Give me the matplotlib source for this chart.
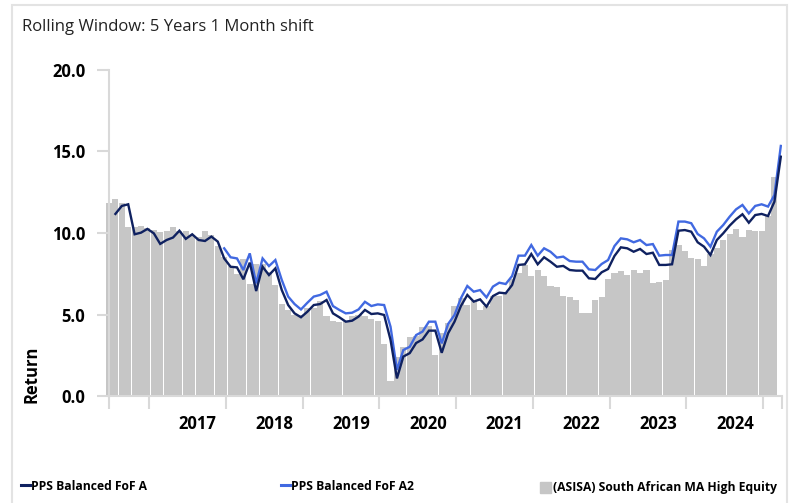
import matplotlib
matplotlib.use("Agg")
import matplotlib.pyplot as plt
from matplotlib.patches import Rectangle
from matplotlib.lines import Line2D
from matplotlib import font_manager
import numpy as np
import pandas as pd

# Monthly rolling 5-year returns (%), July 2016 onwards
months = pd.date_range("2016-07-01", periods=106, freq="MS")

sector_returns = [
    11.85, 12.1, 11.85, 10.35, 10.35, 10.4, 10.3, 10.2, 10.05, 10.15,
    10.35, 10.15, 10.15, 9.9, 9.75, 10.15, 9.9, 9.2, 8.5, 8.0,
    7.5, 8.4, 6.9, 8.1, 8.1, 7.6, 6.8, 5.65, 5.3, 4.95,
    5.0, 5.4, 5.4, 5.85, 4.9, 4.6, 4.55, 4.6, 4.9, 5.0,
    4.9, 4.7, 4.6, 3.2, 0.95, 2.4, 3.0, 3.65, 3.7, 4.25,
    4.3, 2.5, 3.85, 4.5, 5.5, 6.0, 5.6, 5.8, 5.3, 5.5,
    6.15, 6.15, 6.4, 7.2, 7.55, 8.05, 7.35, 7.7, 7.35, 6.75,
    6.7, 6.15, 6.05, 5.9, 5.1, 5.1, 5.9, 6.05, 7.2, 7.55,
    7.65, 7.4, 7.7, 7.55, 7.7, 6.95, 7.0, 7.1, 8.95, 9.25,
    8.9, 8.45, 8.4, 8.0, 8.7, 9.05, 9.6, 9.95, 10.25, 9.75,
    10.2, 10.1, 10.15, 11.05, 13.45,
]

fund_a = [
    None, 11.17, 11.66, 11.76, 9.92, 10.02, 10.25, 9.98, 9.33, 9.57,
    9.72, 10.14, 9.64, 9.92, 9.57, 9.51, 9.78, 9.47, 8.44, 7.93,
    7.89, 7.16, 8.18, 6.44, 7.93, 7.42, 7.83, 6.5, 5.58, 5.07,
    4.83, 5.17, 5.58, 5.64, 5.89, 5.07, 4.83, 4.56, 4.62, 4.87,
    5.28, 5.03, 5.07, 4.97, 3.44, 1.08, 2.42, 2.63, 3.25, 3.47,
    4.01, 4.01, 2.65, 3.85, 4.56, 5.52, 6.2, 5.79, 5.93, 5.48,
    6.13, 6.34, 6.3, 6.81, 8.04, 8.08, 8.71, 8.08, 8.51, 8.24,
    7.93, 7.98, 7.73, 7.69, 7.69, 7.22, 7.18, 7.59, 7.79, 8.59,
    9.12, 9.06, 8.85, 9.02, 8.71, 8.79, 8.04, 8.04, 8.08, 10.14,
    10.18, 10.08, 9.43, 9.16, 8.65, 9.57, 9.98, 10.45, 10.84, 11.15,
    10.63, 11.1, 11.17, 11.04, 11.92, 14.68,
]

fund_a2 = [None] * 18 + [
    9.06, 8.51, 8.44, 7.73, 8.75, 6.91, 8.44, 7.97, 8.34, 7.12,
    6.1, 5.64, 5.31, 5.72, 6.1, 6.2, 6.4, 5.52, 5.28, 5.07,
    5.11, 5.31, 5.78, 5.52, 5.62, 5.58, 4.25, 1.6, 2.82, 3.02,
    3.74, 3.95, 4.56, 4.56, 3.23, 4.42, 4.97, 6.0, 6.75, 6.4,
    6.5, 6.05, 6.71, 6.95, 6.87, 7.36, 8.61, 8.61, 9.26, 8.61,
    9.06, 8.85, 8.49, 8.55, 8.28, 8.24, 8.24, 7.77, 7.73, 8.1,
    8.34, 9.2, 9.67, 9.61, 9.43, 9.57, 9.26, 9.32, 8.61, 8.65,
    8.65, 10.7, 10.7, 10.6, 9.94, 9.67, 9.16, 10.08, 10.49, 11.0,
    11.45, 11.72, 11.2, 11.66, 11.76, 11.62, 12.33, 15.34,
]

year_labels = ["2017", "2018", "2019", "2020", "2021", "2022", "2023", "2024"]
y_ticks = [0.0, 5.0, 10.0, 15.0, 20.0]

series_names = ["PPS Balanced FoF A", "PPS Balanced FoF A2",
                "(ASISA) South African MA High Equity"]

NAVY = "#0f2160"
BLUE = "#4169e1"
BAR_GREY = "#c6c6c6"
AXIS_GREY = "#d9d9d9"

available = {f.name for f in font_manager.fontManager.ttflist}
BASE_FONT = "Open Sans" if "Open Sans" in available else "DejaVu Sans"
plt.rcParams["font.family"] = [BASE_FONT, "DejaVu Sans"]

fig = plt.figure(figsize=(7.90, 5.03), dpi=100)
ax = fig.add_axes([0.138, 0.2127, 0.852, 0.6482])

x = np.arange(len(months))
bar_x = x[:len(sector_returns)]
bars = ax.bar(bar_x, sector_returns, width=0.96, color=BAR_GREY,
              linewidth=0, zorder=1)
for b in bars:
    b.set_clip_on(False)

a2 = np.array([np.nan if v is None else v for v in fund_a2], dtype=float)
a = np.array([np.nan if v is None else v for v in fund_a], dtype=float)
ax.plot(x, a2, color=BLUE, linewidth=1.7, zorder=3, solid_joinstyle="miter")
ax.plot(x, a, color=NAVY, linewidth=1.7, zorder=4, solid_joinstyle="miter")

ax.set_xlim(0, 105.2)
ax.set_ylim(0, 20)

# Year boundaries as major ticks, year names as unlabeled-tick minor labels
year_starts = [6.25 + 12 * k for k in range(len(year_labels) + 1)]
ax.set_xticks([0] + year_starts + [105.2])
ax.set_xticklabels([])
ax.set_xticks([s + 7.6 for s in year_starts[:-1]], minor=True)
ax.set_xticklabels(year_labels, minor=True, fontsize=12, fontweight="bold")
ax.tick_params(axis="x", which="major", length=9, width=1.5, color=AXIS_GREY)
ax.tick_params(axis="x", which="minor", length=0, pad=14)

ax.set_yticks(y_ticks)
ax.set_yticklabels([f"{v:.1f}" for v in y_ticks], fontsize=12,
                   fontweight="bold")
ax.tick_params(axis="y", length=9, width=1.5, color=AXIS_GREY, pad=8)

for side in ("top", "right"):
    ax.spines[side].set_visible(False)
for side in ("left", "bottom"):
    ax.spines[side].set_color(AXIS_GREY)
    ax.spines[side].set_linewidth(1.5)

fig.text(22 / 790, 1 - 27 / 503, "Rolling Window: 5 Years 1 Month shift",
         fontsize=12, ha="left", va="center", color="#222222")
fig.text(32 / 790, 1 - 374 / 503, "Return", fontsize=12, fontweight="bold",
         rotation=90, ha="center", va="center")

# Legend row along the bottom
leg_y = 1 - 487 / 503
fig.add_artist(Line2D([21 / 790, 30 / 790], [leg_y + 0.003, leg_y + 0.003],
                      color=NAVY, linewidth=2.2))
fig.add_artist(Line2D([281 / 790, 290 / 790], [leg_y + 0.003, leg_y + 0.003],
                      color=BLUE, linewidth=2.2))
fig.add_artist(Rectangle((540 / 790, leg_y - 6 / 503), 11 / 790, 11.5 / 503,
                         transform=fig.transFigure, color=BAR_GREY))
for xpos, name in zip([31, 291, 553], series_names):
    fig.text(xpos / 790, leg_y, name, fontsize=8.7, fontweight="bold",
             ha="left", va="center")

# Light frame around the panel
fig.add_artist(Rectangle((12 / 790, -0.01), 775 / 790, 1 - 5 / 503 + 0.01,
                         transform=fig.transFigure, fill=False,
                         edgecolor="#e3e3e3", linewidth=1.5))

fig.savefig("out.png", dpi=100, facecolor="white")
